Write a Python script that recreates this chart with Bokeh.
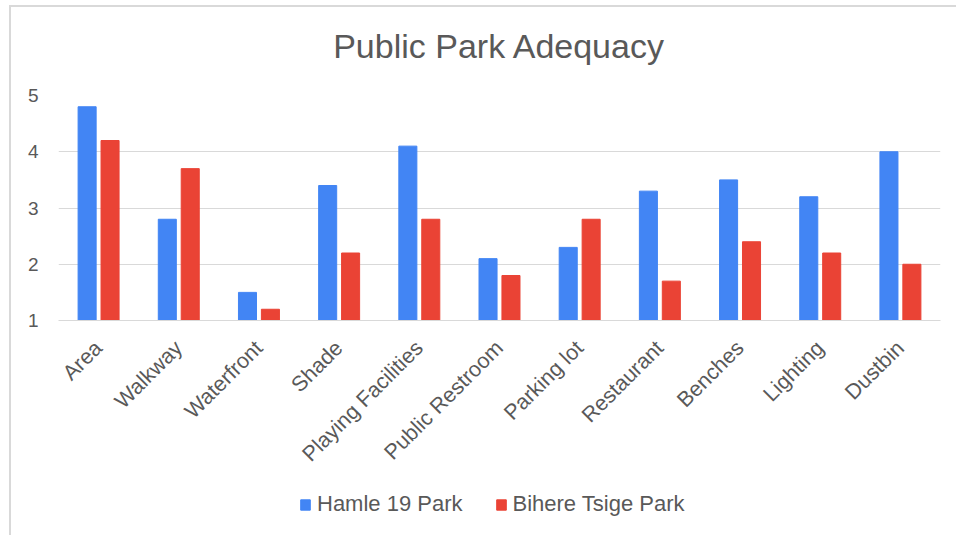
import math
from bokeh.plotting import figure
from bokeh.layouts import column
from bokeh.models import ColumnDataSource, FactorRange, Range1d, FixedTicker, Legend, LegendItem
from bokeh.transform import dodge
from bokeh.embed import file_html
from bokeh.resources import INLINE

categories = ["Area", "Walkway", "Waterfront", "Shade", "Playing Facilities", "Public Restroom",
              "Parking lot", "Restaurant", "Benches", "Lighting", "Dustbin"]
hamle = [4.8, 2.8, 1.5, 3.4, 4.1, 2.1, 2.3, 3.3, 3.5, 3.2, 4.0]
bihere = [4.2, 3.7, 1.2, 2.2, 2.8, 1.8, 2.8, 1.7, 2.4, 2.2, 2.0]
series_names = ["Hamle 19 Park", "Bihere Tsige Park"]
series_colors = ["#4285F4", "#EA4335"]
y_ticks = [1, 2, 3, 4, 5]
chart_title = "Public Park Adequacy"

FONT = "Liberation Sans"
GREY = "#595959"


def bare(fig):
    fig.outline_line_color = None
    fig.xgrid.grid_line_color = None
    fig.ygrid.grid_line_color = None


# title strip
p0 = figure(width=945, height=76, x_range=Range1d(0, 1), y_range=Range1d(0, 1),
            output_backend="svg", toolbar_location=None, title=chart_title,
            min_border_left=11, min_border_right=0, min_border_top=0, min_border_bottom=0,
            x_axis_type=None, y_axis_type=None)
bare(p0)
p0.title.text_font = FONT
p0.title.text_font_size = "34px"
p0.title.text_font_style = "normal"
p0.title.text_color = GREY
p0.title.align = "center"
p0.title.standoff = 34

# main chart
src = ColumnDataSource(dict(cat=categories, hamle=hamle, bihere=bihere))

p = figure(width=945, height=396, x_range=FactorRange(*categories, range_padding=0),
           y_range=Range1d(1, 5), output_backend="svg", toolbar_location=None,
           min_border_left=47, min_border_right=16, min_border_top=12, min_border_bottom=159)
p.outline_line_color = None
p.xgrid.grid_line_color = None
p.ygrid.grid_line_color = "#d9d9d9"
p.ygrid.grid_line_width = 1

p.vbar(x=dodge("cat", -0.143, range=p.x_range), top="hamle", bottom=1, width=0.225,
       source=src, fill_color=series_colors[0], line_color=series_colors[0])
p.vbar(x=dodge("cat", 0.143, range=p.x_range), top="bihere", bottom=1, width=0.225,
       source=src, fill_color=series_colors[1], line_color=series_colors[1])

p.yaxis.ticker = FixedTicker(ticks=y_ticks)
p.yaxis.axis_line_color = None
p.yaxis.major_tick_line_color = None
p.yaxis.minor_tick_line_color = None
p.yaxis.major_tick_out = 0
p.yaxis.major_tick_in = 0
p.yaxis.major_label_standoff = 20
p.yaxis.major_label_text_font = FONT
p.yaxis.major_label_text_font_size = "19px"
p.yaxis.major_label_text_color = GREY

p.xaxis.axis_line_color = "#d9d9d9"
p.xaxis.major_tick_line_color = None
p.xaxis.minor_tick_line_color = None
p.xaxis.major_tick_out = 0
p.xaxis.major_tick_in = 0
p.xaxis.major_label_orientation = math.pi / 4
p.xaxis.major_label_standoff = 24
p.xaxis.major_label_text_font = FONT
p.xaxis.major_label_text_font_size = "21.5px"
p.xaxis.major_label_text_color = GREY

# legend strip below the chart (swatch glyphs sit outside the strip's visible range)
p2 = figure(width=945, height=56, x_range=Range1d(0, 1), y_range=Range1d(0, 1),
            output_backend="svg", toolbar_location=None,
            min_border_left=0, min_border_right=0, min_border_top=0, min_border_bottom=0,
            x_axis_type=None, y_axis_type=None)
bare(p2)
swatch = ColumnDataSource(dict(x=[-5], top=[-5]))
k1 = p2.vbar(x="x", top="top", width=0.1, source=swatch,
             fill_color=series_colors[0], line_color=series_colors[0])
k2 = p2.vbar(x="x", top="top", width=0.1, source=swatch,
             fill_color=series_colors[1], line_color=series_colors[1])

legend = Legend(items=[LegendItem(label=series_names[0], renderers=[k1]),
                       LegendItem(label=series_names[1], renderers=[k2])],
                orientation="horizontal", location=(241, 18),
                glyph_width=12, glyph_height=13, label_standoff=6, spacing=32, label_height=23,
                padding=0, margin=0, border_line_color=None, background_fill_alpha=0,
                label_text_font=FONT, label_text_font_size="22px", label_text_color=GREY)
p2.add_layout(legend, "center")

layout = column(p0, p, p2, spacing=0,
                styles={"margin-left": "9px", "margin-top": "5px",
                        "border-left": "2px solid #d9d9d9", "border-top": "2px solid #d9d9d9"})

open("out.html", "w").write(file_html(layout, INLINE))
